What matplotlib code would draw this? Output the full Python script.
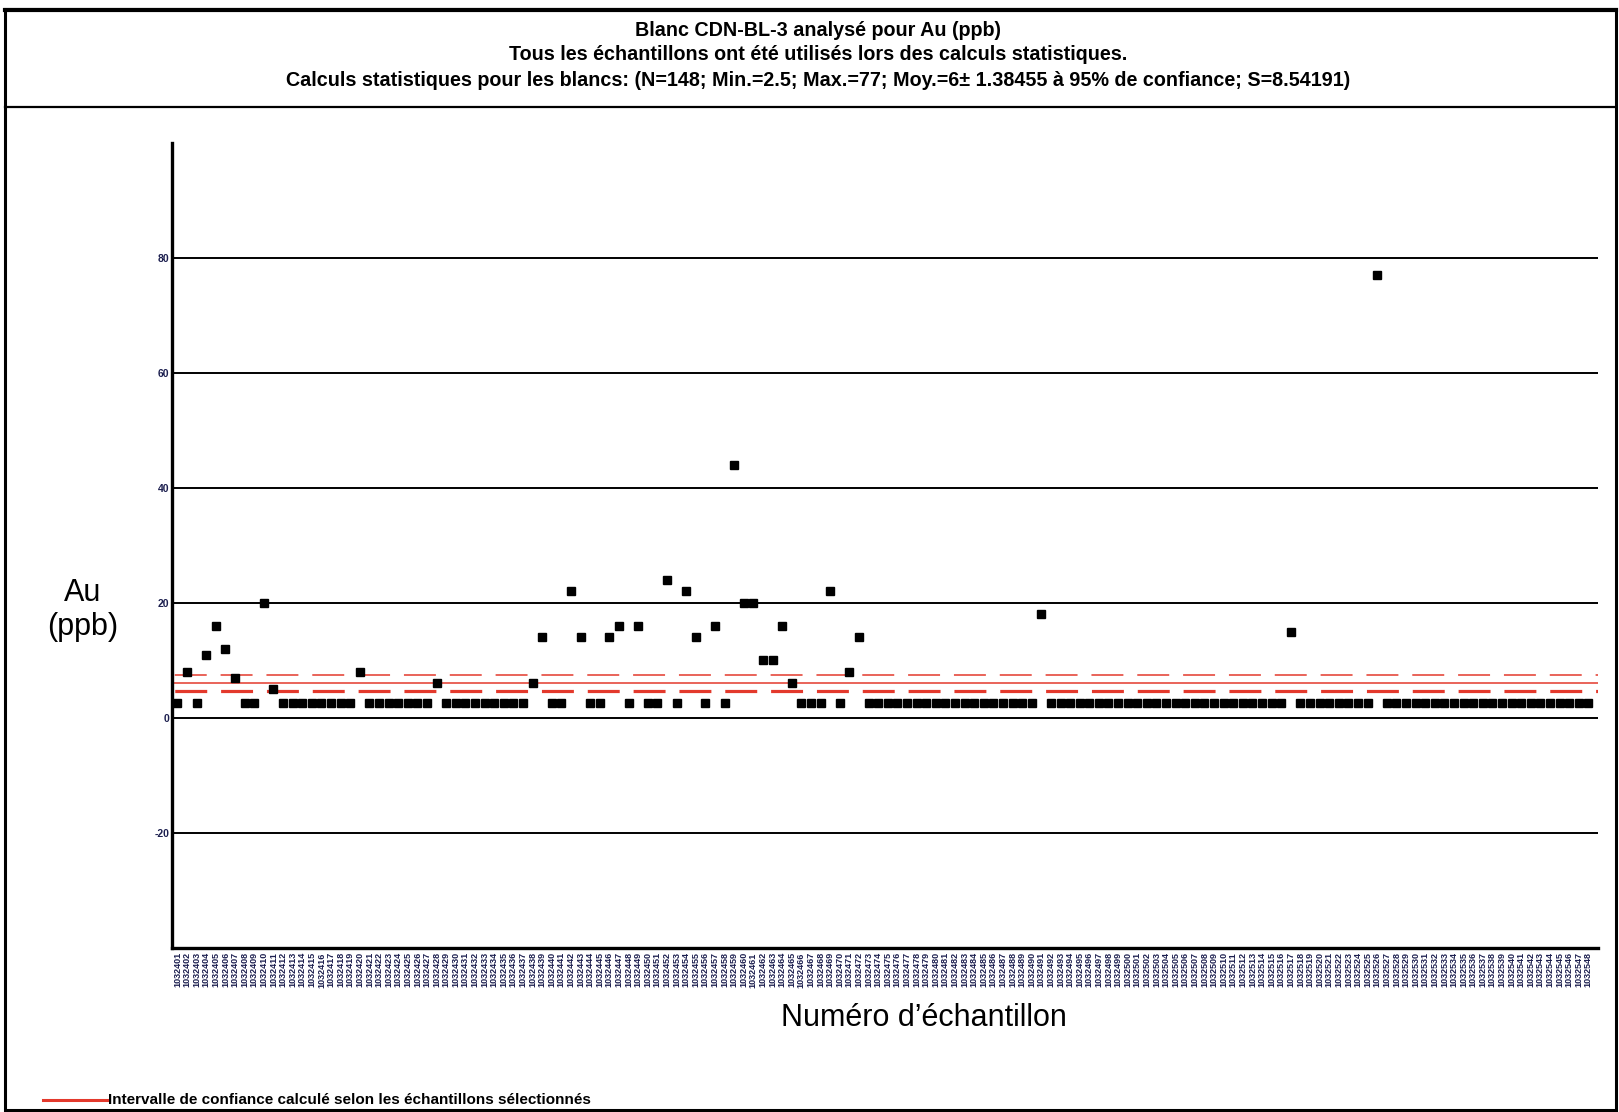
import matplotlib
matplotlib.use("Agg")
import matplotlib.pyplot as plt
from matplotlib.lines import Line2D
from matplotlib.patches import Rectangle

plt.rcParams['font.family'] = ['Liberation Sans', 'DejaVu Sans']
plt.rcParams['lines.scale_dashes'] = False

# Au results (ppb) for the CDN-BL-3 blank, in sample order
au_ppb = [
    2.5, 8, 2.5, 11, 16, 12, 7, 2.5, 2.5, 20,
    5, 2.5, 2.5, 2.5, 2.5, 2.5, 2.5, 2.5, 2.5, 8,
    2.5, 2.5, 2.5, 2.5, 2.5, 2.5, 2.5, 6, 2.5, 2.5,
    2.5, 2.5, 2.5, 2.5, 2.5, 2.5, 2.5, 6, 14, 2.5,
    2.5, 22, 14, 2.5, 2.5, 14, 16, 2.5, 16, 2.5,
    2.5, 24, 2.5, 22, 14, 2.5, 16, 2.5, 44, 20,
    20, 10, 10, 16, 6, 2.5, 2.5, 2.5, 22, 2.5,
    8, 14, 2.5, 2.5, 2.5, 2.5, 2.5, 2.5, 2.5, 2.5,
    2.5, 2.5, 2.5, 2.5, 2.5, 2.5, 2.5, 2.5, 2.5, 2.5,
    18, 2.5, 2.5, 2.5, 2.5, 2.5, 2.5, 2.5, 2.5, 2.5,
    2.5, 2.5, 2.5, 2.5, 2.5, 2.5, 2.5, 2.5, 2.5, 2.5,
    2.5, 2.5, 2.5, 2.5, 2.5, 2.5, 15, 2.5, 2.5, 2.5,
    2.5, 2.5, 2.5, 2.5, 2.5, 77, 2.5, 2.5, 2.5, 2.5,
    2.5, 2.5, 2.5, 2.5, 2.5, 2.5, 2.5, 2.5, 2.5, 2.5,
    2.5, 2.5, 2.5, 2.5, 2.5, 2.5, 2.5, 2.5,
]

# Sample numbers used as category labels
sample_numbers = [str(1032401 + i) for i in range(len(au_ppb))]

# Summary statistics reported for the blanks
mean_au = 6.0
ci_95 = 1.38455
std_au = 8.54191

y_ticks = [-20, 0, 20, 40, 60, 80]

title_lines = [
    "Blanc CDN-BL-3 analysé pour Au (ppb)",
    "Tous les échantillons ont été utilisés lors des calculs statistiques.",
    "Calculs statistiques pour les blancs: (N=148; Min.=2.5; Max.=77; "
    "Moy.=6± 1.38455 à 95% de confiance; S=8.54191)",
]
legend_label = "Intervalle de confiance calculé selon les échantillons sélectionnés"

W, H = 1619, 1112
fig = plt.figure(figsize=(W / 100, H / 100), dpi=100)
fig.patch.set_facecolor('white')

def fx(px):
    return px / W

def fy(py):
    return 1 - py / H

ax = fig.add_axes([fx(172), fy(948), fx(1598) - fx(172), fy(142.5) - fy(948)])

x = list(range(len(au_ppb)))
ax.set_xlim(-0.57, len(au_ppb))
ax.set_ylim(-40, 100)

# horizontal grid
for v in y_ticks:
    ax.axhline(v, color='black', lw=1.4, zorder=1)

# mean and 95 % confidence band
red = '#e3392c'
dash = (31, (23, 10))
ax.axhline(mean_au, color=red, lw=1.1, zorder=2)
ax.axhline(mean_au + ci_95, color=red, lw=1.1, zorder=2, linestyle=dash)
ax.axhline(mean_au - ci_95, color=red, lw=2.3, zorder=2, linestyle=dash)

ax.plot(x, au_ppb, 's', ms=5.2, color='black', zorder=3, clip_on=False)

for side in ('top', 'right'):
    ax.spines[side].set_visible(False)
ax.spines['left'].set_linewidth(2.4)
ax.spines['bottom'].set_linewidth(2.4)

ax.set_yticks(y_ticks)
ax.set_yticklabels([str(v) for v in y_ticks], fontsize=7.5,
                   fontweight='bold', color='#1c1f4f')
ax.tick_params(axis='y', length=0, pad=2)

ax.set_xticks(x)
ax.set_xticklabels(sample_numbers, rotation=90, fontsize=6.5,
                   fontweight='bold', color='#1c1f4f')
ax.tick_params(axis='x', length=0, pad=3)

# axis titles
fig.text(fx(82.6), fy(610), "Au\n(ppb)", ha='center', va='center',
         fontsize=22, linespacing=1.15)
fig.text(fx(924), fy(1018), "Numéro d’échantillon", ha='center',
         va='center', fontsize=22)

# header
for text, py in zip(title_lines, (30, 55, 80)):
    fig.text(fx(818), fy(py), text, ha='center', va='center',
             fontsize=14.2, fontweight='bold')

# legend
fig.add_artist(Line2D([fx(43), fx(108)], [fy(1100), fy(1100)],
                      color=red, lw=2.2, transform=fig.transFigure))
fig.text(fx(108), fy(1100), legend_label, ha='left', va='center',
         fontsize=11, fontweight='bold')

# frame around the page and the header box
fig.add_artist(Rectangle((fx(5), fy(1110)), fx(1616) - fx(5), fy(9) - fy(1110),
                         fill=False, edgecolor='black', lw=2.2,
                         transform=fig.transFigure))
fig.add_artist(Line2D([fx(5), fx(1616)], [fy(107), fy(107)],
                      color='black', lw=1.6, transform=fig.transFigure))
fig.add_artist(Line2D([fx(5), fx(1616)], [fy(10), fy(10)],
                      color='black', lw=3, transform=fig.transFigure))

fig.savefig("out.png", dpi=100)
